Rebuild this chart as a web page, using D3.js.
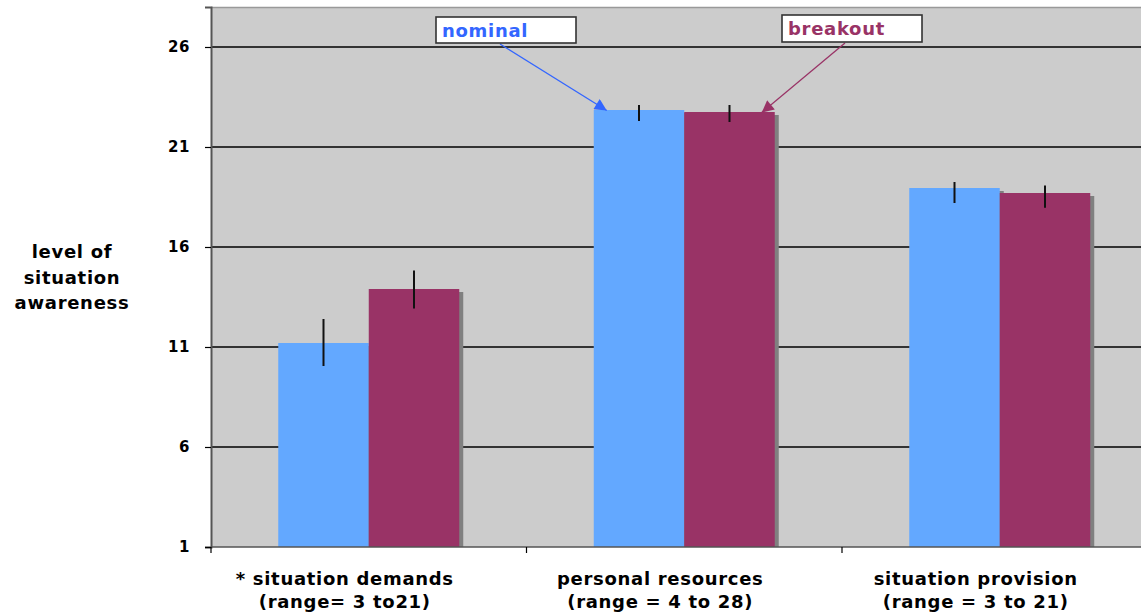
<!DOCTYPE html>
<html><head><meta charset="utf-8">
<script src="https://cdn.jsdelivr.net/npm/d3@7"></script>
<style>
html,body{margin:0;padding:0;background:#fff;}
svg text{font-family:"DejaVu Sans",Verdana,sans-serif;font-weight:bold;}
</style></head>
<body><svg id="c" width="1141" height="614"></svg>
<script>
const categories = ["* situation demands|(range= 3 to21)", "personal resources|(range = 4 to 28)", "situation provision|(range = 3 to 21)"];
const seriesNames = ["nominal", "breakout"];
const nominal = [11.2, 22.85, 18.95];
const breakout = [13.9, 22.75, 18.7];
const nominalHi = [12.4, 23.1, 19.25];
const nominalLo = [10.05, 22.3, 18.2];
const breakoutHi = [14.82, 23.1, 19.08];
const breakoutLo = [12.93, 22.25, 17.96];
const yTicks = [1, 6, 11, 16, 21, 26];
const yTitle = ["level of", "situation", "awareness"];

(function() {
const colors = {nominal: "#63a8ff", breakout: "#993366"};
const labelColors = {nominal: "#3366ff", breakout: "#993366"};

const svg = d3.select("#c");
const pLeft = 211, pBottom = 547, pTop = 7, bandW = 315.5;
const x = d3.scaleBand().domain(categories).range([pLeft, pLeft + 3 * bandW]).padding(0);
const groupW = 181;
const xi = d3.scaleBand().domain(seriesNames).range([0, groupW]).padding(0);
const y = d3.scaleLinear().domain([1, 28]).range([pBottom, pTop]);

svg.append("rect").attr("x", pLeft).attr("y", pTop).attr("width", 3 * bandW).attr("height", pBottom - pTop)
  .attr("fill", "#cccccc");
svg.append("line").attr("x1", pLeft).attr("x2", 1141).attr("y1", pTop + 0.5).attr("y2", pTop + 0.5)
  .attr("stroke", "#999").attr("stroke-width", 1.5);

svg.append("g").selectAll("line").data(yTicks.slice(1)).join("line")
  .attr("x1", pLeft).attr("x2", pLeft + 3 * bandW)
  .attr("y1", d => y(d)).attr("y2", d => y(d))
  .attr("stroke", "#000").attr("stroke-width", 1.5);

const data = [];
categories.forEach((c, i) => {
  data.push({cat: c, s: "nominal", v: nominal[i], hi: nominalHi[i], lo: nominalLo[i]});
  data.push({cat: c, s: "breakout", v: breakout[i], hi: breakoutHi[i], lo: breakoutLo[i]});
});
const bx = d => x(d.cat) + (x.bandwidth() - groupW) / 2 + xi(d.s);

svg.append("g").selectAll("rect").data(data).join("rect")
  .attr("x", d => bx(d) + 4).attr("y", d => y(d.v) + 3)
  .attr("width", xi.bandwidth()).attr("height", d => pBottom - y(d.v) - 3)
  .attr("fill", "#808080");
svg.append("g").selectAll("rect").data(data).join("rect")
  .attr("x", d => bx(d)).attr("y", d => y(d.v))
  .attr("width", xi.bandwidth()).attr("height", d => pBottom - y(d.v))
  .attr("fill", d => colors[d.s]);
svg.append("g").selectAll("line").data(data).join("line")
  .attr("x1", d => bx(d) + xi.bandwidth() / 2).attr("x2", d => bx(d) + xi.bandwidth() / 2)
  .attr("y1", d => y(d.hi)).attr("y2", d => y(d.lo))
  .attr("stroke", "#111").attr("stroke-width", 2);

const yAxis = d3.axisLeft(y).tickValues(yTicks).tickSize(6).tickPadding(15).tickFormat(d3.format("d"));
const ga = svg.append("g").attr("transform", `translate(${pLeft},0)`).call(yAxis);
ga.select(".domain").attr("stroke", "#555").attr("stroke-width", 2);
ga.selectAll(".tick line").attr("stroke", "#000").attr("stroke-width", 1.2);
ga.selectAll(".tick text").attr("font-size", 15).attr("letter-spacing", 0.6).attr("fill", "#000")
  .attr("font-family", "DejaVu Sans").attr("font-weight", "bold");

svg.append("line").attr("x1", pLeft).attr("x2", 1141).attr("y1", pBottom).attr("y2", pBottom)
  .attr("stroke", "#555").attr("stroke-width", 1.5);
const xTickPos = [0, 1, 2].map(i => pLeft + i * bandW);
svg.append("g").selectAll("line").data(xTickPos).join("line")
  .attr("x1", d => d).attr("x2", d => d).attr("y1", pBottom).attr("y2", pBottom + 6)
  .attr("stroke", "#000").attr("stroke-width", 1.2);

const cl = svg.append("g").selectAll("text").data(categories).join("text")
  .attr("text-anchor", "middle").attr("font-size", 18).attr("letter-spacing", 0.7).attr("fill", "#000");
cl.each(function(d) {
  const parts = d.split("|");
  const cx = x(d) + x.bandwidth() / 2 - 24;
  d3.select(this).selectAll("tspan").data(parts).join("tspan")
    .attr("x", cx).attr("y", (p, j) => 585 + j * 23).text(p => p);
});

svg.append("g").selectAll("text").data(yTitle).join("text")
  .attr("x", 72).attr("y", (d, i) => 258 + i * 25.5).attr("text-anchor", "middle")
  .attr("font-size", 18).attr("letter-spacing", 0.7).attr("fill", "#000").text(d => d);

const defs = svg.append("defs");
seriesNames.forEach(s => {
  defs.append("marker").attr("id", "arr-" + s).attr("markerUnits", "userSpaceOnUse")
    .attr("viewBox", "0 0 10 10").attr("refX", 10).attr("refY", 5)
    .attr("markerWidth", 16).attr("markerHeight", 12).attr("orient", "auto")
    .append("path").attr("d", "M0,0 L10,5 L0,10 Z").attr("fill", labelColors[s]);
});
const ann = [
  {s: "nominal", box: [436, 17, 140, 26], from: [500, 44],
   to: [bx(data[2]) + 13, y(nominal[1]) + 0.5], tx: 442, ty: 37},
  {s: "breakout", box: [782, 15, 140, 27], from: [845, 43],
   to: [bx(data[3]) + xi.bandwidth() - 13, y(breakout[1]) + 0.5], tx: 788, ty: 35}
];
ann.forEach(a => {
  svg.append("line").attr("x1", a.from[0]).attr("y1", a.from[1]).attr("x2", a.to[0]).attr("y2", a.to[1])
    .attr("stroke", labelColors[a.s]).attr("stroke-width", 1.3).attr("marker-end", `url(#arr-${a.s})`);
  svg.append("rect").attr("x", a.box[0]).attr("y", a.box[1]).attr("width", a.box[2]).attr("height", a.box[3])
    .attr("fill", "#fff").attr("stroke", "#333").attr("stroke-width", 1.6);
  svg.append("text").attr("x", a.tx).attr("y", a.ty).attr("font-size", 18).attr("letter-spacing", 0.7)
    .attr("fill", labelColors[a.s]).text(a.s);
});
})();
</script></body></html>
